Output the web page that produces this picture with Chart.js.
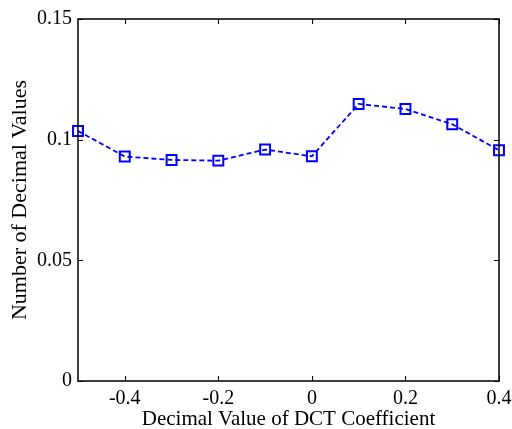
<!DOCTYPE html>
<html>
<head>
<meta charset="utf-8">
<script src="https://cdn.jsdelivr.net/npm/chart.js@4"></script>
<style>
html,body{margin:0;padding:0;background:#fff;}
#wrap{width:512px;height:429px;position:relative;}
</style>
</head>
<body>
<div id="wrap"><canvas id="c" width="512" height="429"></canvas></div>
<script>
const xValues = [-0.5, -0.4, -0.3, -0.2, -0.1, 0, 0.1, 0.2, 0.3, 0.4];
const yValues = [0.1036, 0.0930, 0.0916, 0.0913, 0.0959, 0.0931, 0.1148, 0.1127, 0.1064, 0.0956];
const xTicks = [-0.4, -0.2, 0, 0.2, 0.4];
const yTicks = [0, 0.05, 0.1, 0.15];
const xTitle = 'Decimal Value of DCT Coefficient';
const yTitle = 'Number of Decimal Values';

const FONT = '"Liberation Serif", "Times New Roman", serif';

const boxTicks = {
  id: 'boxTicks',
  afterDraw(chart) {
    const ctx = chart.ctx, a = chart.chartArea;
    const xs = chart.scales.x, ys = chart.scales.y;
    ctx.save();
    ctx.strokeStyle = '#000';
    ctx.lineWidth = 1;
    const L = 5;
    ctx.beginPath();
    xTicks.forEach(v => {
      const p = Math.round(xs.getPixelForValue(v)) + 0.5;
      ctx.moveTo(p, a.bottom); ctx.lineTo(p, a.bottom - L);
      ctx.moveTo(p, a.top); ctx.lineTo(p, a.top + L);
    });
    yTicks.forEach(v => {
      const p = Math.round(ys.getPixelForValue(v)) + 0.5;
      ctx.moveTo(a.left, p); ctx.lineTo(a.left + L, p);
      ctx.moveTo(a.right, p); ctx.lineTo(a.right - L, p);
    });
    ctx.stroke();
    ctx.lineWidth = 1.5;
    ctx.strokeRect(Math.round(a.left), Math.round(a.top), Math.round(a.right - a.left), Math.round(a.bottom - a.top));
    ctx.restore();
  }
};

new Chart(document.getElementById('c'), {
  type: 'line',
  data: {
    datasets: [{
      data: xValues.map((x, i) => ({x: x, y: yValues[i]})),
      borderColor: '#0000ff',
      borderWidth: 1.8,
      borderDash: [5, 3],
      pointStyle: 'rect',
      pointRadius: 7,
      pointBorderWidth: 2,
      pointBorderColor: '#0000ff',
      pointBackgroundColor: 'rgba(0,0,0,0)',
      tension: 0,
      clip: false
    }]
  },
  options: {
    responsive: false,
    animation: false,
    layout: {padding: {left: 0, right: 13, top: 19, bottom: 0}},
    plugins: {legend: {display: false}, tooltip: {enabled: false}},
    scales: {
      x: {
        type: 'linear', min: -0.5, max: 0.4,
        afterBuildTicks: s => { s.ticks = xTicks.map(v => ({value: v})); },
        afterFit: s => { s.height = 48; s.paddingLeft = 0; s.paddingRight = 0; },
        grid: {display: false, drawTicks: false},
        border: {display: false},
        ticks: {color: '#000', font: {family: FONT, size: 20}, padding: 6, maxRotation: 0,
          callback: v => String(v)},
        title: {display: true, text: xTitle, color: '#000', font: {family: FONT, size: 21}, padding: {top: 0, bottom: -3}}
      },
      y: {
        type: 'linear', min: 0, max: 0.15,
        afterBuildTicks: s => { s.ticks = yTicks.map(v => ({value: v})); },
        afterFit: s => { s.width = 78; s.paddingTop = 0; s.paddingBottom = 0; },
        grid: {display: false, drawTicks: false},
        border: {display: false},
        ticks: {color: '#000', font: {family: FONT, size: 20}, padding: 6,
          callback: v => String(v)},
        title: {display: true, text: yTitle, color: '#000', font: {family: FONT, size: 22}, padding: {top: 7, bottom: 0}}
      }
    }
  },
  plugins: [boxTicks]
});
</script>
</body>
</html>
